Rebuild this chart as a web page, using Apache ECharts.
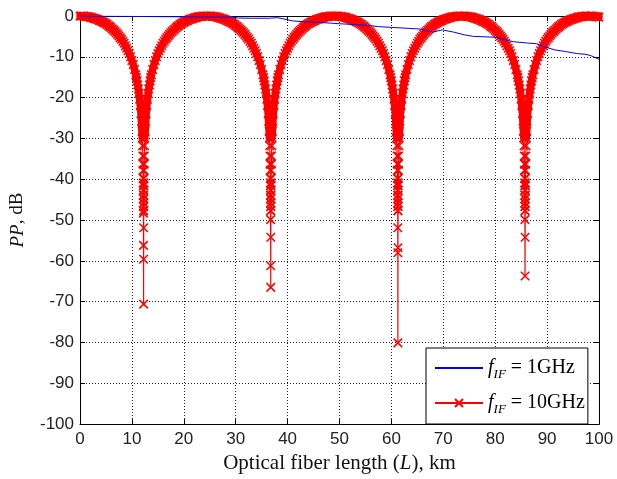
<!DOCTYPE html>
<html>
<head>
<meta charset="utf-8">
<script src="https://cdn.jsdelivr.net/npm/echarts@6/dist/echarts.min.js"></script>
<style>
  html, body { margin: 0; padding: 0; background: #fff; }
  #chart { width: 617px; height: 479px; }
</style>
</head>
<body>
<div id="chart"></div>
<script>
// Power penalty (dB) versus optical fibre length for two IF frequencies.

// 10 GHz trace, sampled every 0.25 km from 0 to 100 km
const lengthStep = 0.25;
const pp10GHz = [
  0,0,0,0,-0.1,-0.1,-0.2,-0.2,-0.3,-0.4,-0.5,-0.6,-0.7,-0.8,-0.9,-1.1,-1.2,-1.4,-1.5,-1.7,-1.9,-2.1,-2.4,-2.6,-2.9,-3.2,-3.5,-3.8,-4.1,-4.5,-4.9,-5.3,-5.7,-6.2,-6.7,-7.3,-7.9,-8.5,-9.2,-10.0,-10.9,-11.9,-13.1,-14.4,-15.9,-17.9,-20.4,-23.9,-29.9,
  -70.6,
  -29.9,-23.9,-20.4,-17.9,-15.9,-14.4,-13.1,-11.9,-10.9,-10.0,-9.2,-8.5,-7.9,-7.3,-6.7,-6.2,-5.7,-5.3,-4.9,-4.5,-4.1,-3.8,-3.5,-3.2,-2.9,-2.6,-2.4,-2.1,-1.9,-1.7,-1.5,-1.4,-1.2,-1.1,-0.9,-0.8,-0.7,-0.6,-0.5,-0.4,-0.3,-0.2,-0.2,-0.1,-0.1,0,0,0,0,
  0,0,0,-0.1,-0.1,-0.2,-0.2,-0.3,-0.4,-0.5,-0.6,-0.7,-0.8,-0.9,-1.1,-1.2,-1.4,-1.5,-1.7,-1.9,-2.1,-2.4,-2.6,-2.9,-3.2,-3.5,-3.8,-4.1,-4.5,-4.9,-5.3,-5.7,-6.2,-6.7,-7.3,-7.9,-8.5,-9.2,-10.0,-10.9,-11.9,-13.1,-14.4,-15.9,-17.9,-20.4,-23.9,-29.9,
  -66.5,
  -29.9,-23.9,-20.4,-17.9,-15.9,-14.4,-13.1,-11.9,-10.9,-10.0,-9.2,-8.5,-7.9,-7.3,-6.7,-6.2,-5.7,-5.3,-4.9,-4.5,-4.1,-3.8,-3.5,-3.2,-2.9,-2.6,-2.4,-2.1,-1.9,-1.7,-1.5,-1.4,-1.2,-1.1,-0.9,-0.8,-0.7,-0.6,-0.5,-0.4,-0.3,-0.2,-0.2,-0.1,-0.1,0,0,0,0,
  0,0,0,-0.1,-0.1,-0.2,-0.2,-0.3,-0.4,-0.5,-0.6,-0.7,-0.8,-0.9,-1.1,-1.2,-1.4,-1.5,-1.7,-1.9,-2.1,-2.4,-2.6,-2.9,-3.2,-3.5,-3.8,-4.1,-4.5,-4.9,-5.3,-5.7,-6.2,-6.7,-7.3,-7.9,-8.5,-9.2,-10.0,-10.9,-11.9,-13.1,-14.4,-15.9,-17.9,-20.4,-23.9,-29.9,
  -80.1,
  -29.9,-23.9,-20.4,-17.9,-15.9,-14.4,-13.1,-11.9,-10.9,-10.0,-9.2,-8.5,-7.9,-7.3,-6.7,-6.2,-5.7,-5.3,-4.9,-4.5,-4.1,-3.8,-3.5,-3.2,-2.9,-2.6,-2.4,-2.1,-1.9,-1.7,-1.5,-1.4,-1.2,-1.1,-0.9,-0.8,-0.7,-0.6,-0.5,-0.4,-0.3,-0.2,-0.2,-0.1,-0.1,0,0,0,0,
  0,0,0,-0.1,-0.1,-0.2,-0.2,-0.3,-0.4,-0.5,-0.6,-0.7,-0.8,-0.9,-1.1,-1.2,-1.4,-1.5,-1.7,-1.9,-2.1,-2.4,-2.6,-2.9,-3.2,-3.5,-3.8,-4.1,-4.5,-4.9,-5.3,-5.7,-6.2,-6.7,-7.3,-7.9,-8.5,-9.2,-10.0,-10.9,-11.9,-13.1,-14.4,-15.9,-17.9,-20.4,-23.9,-29.9,
  -63.7,
  -29.9,-23.9,-20.4,-17.9,-15.9,-14.4,-13.1,-11.9,-10.9,-10.0,-9.2,-8.5,-7.9,-7.3,-6.7,-6.2,-5.7,-5.3,-4.9,-4.5,-4.1,-3.8,-3.5,-3.2,-2.9,-2.6,-2.4,-2.1,-1.9,-1.7,-1.5,-1.4,-1.2,-1.1,-0.9,-0.8,-0.7,-0.6,-0.5,-0.4,-0.3,-0.2,-0.2,-0.1,-0.1,0,0,0,0,
  0,0,0,-0.1,-0.1,-0.2,-0.2,-0.3
];

// extra 10 GHz samples around each fading notch (km offset from the notch, dB)
const notchCentres = [12.25, 36.75, 61.25, 85.75];
const notchOffsets = [-1.375,-1.125,-0.875,-0.625,-0.4,-0.3,-0.2,-0.15,-0.12,-0.1,-0.08,-0.07,-0.065,-0.057,-0.05,-0.045,-0.04,-0.036,-0.032,
                      0.032,0.036,0.04,0.045,0.05,0.057,0.065,0.07,0.08,0.1,0.12,0.15,0.2,0.3,0.4,0.625,0.875,1.125,1.375];
const notchValues  = [-15.1,-16.9,-19.0,-21.9,-25.8,-28.3,-31.8,-34.3,-36.3,-37.8,-39.8,-40.9,-41.6,-42.7,-43.9,-44.8,-45.8,-46.7,-47.7,
                      -47.7,-46.7,-45.8,-44.8,-43.9,-42.7,-41.6,-40.9,-39.8,-37.8,-36.3,-34.3,-31.8,-28.3,-25.8,-21.9,-19.0,-16.9,-15.1];
// deepest samples of each notch
const deepOffsets = [[-0.024, 0.018, -0.012, 0.008], [-0.025, 0.015, -0.007], [-0.02, 0.012, -0.011], [-0.025, 0.016]];
const deepValues  = [[-48.3, -51.9, -56.2, -59.6], [-49.9, -54.2, -61.2], [-51.9, -56.8, -58.0], [-49.9, -54.2]];

// 1 GHz trace
const lengths1GHz = [0,5,10,15,20,25,29.5,30.5,33,36.5,38,39.5,41,43,46.5,50,53,55.5,57.5,60,63,65.5,68,69.8,72,74,75.8,80,81.5,83.5,86,88,89.3,91.5,93.5,95.7,97.5,98.6,100];
const pp1GHz      = [0,-0.05,-0.1,-0.15,-0.2,-0.25,-0.3,-0.5,-0.55,-0.55,-0.4,-0.8,-1.2,-1.4,-1.6,-1.9,-2.1,-2.3,-2.6,-2.8,-3.0,-3.2,-3.95,-3.4,-3.95,-4.6,-5.0,-5.2,-5.7,-6.3,-6.6,-6.8,-7.5,-8.3,-8.7,-9.2,-9.4,-9.8,-10.6];

const seriesNames = ['1GHz', '10GHz'];

// assemble [length, dB] pairs
const trace10 = pp10GHz.map((v, i) => [i * lengthStep, v]);
// the dense marker band along the 10 GHz arches (broken at the notch floors)
const band10 = pp10GHz.map((v, i) => [i * lengthStep, notchCentres.includes(i * lengthStep) ? '-' : v]);
notchCentres.forEach((c, n) => {
  notchOffsets.forEach((o, j) => trace10.push([c + o, notchValues[j]]));
  deepOffsets[n].forEach((o, j) => trace10.push([c + o, deepValues[n][j]]));
});
trace10.sort((a, b) => a[0] - b[0]);
const trace1 = lengths1GHz.map((x, i) => [x, pp1GHz[i]]);

const serif = 'Liberation Serif';
const sans = 'Liberation Sans';
const crossPath = 'path://M0,0L10,10M0,10L10,0';
const red = '#ff0000';

const edgeAxis = {
  type: 'value', min: 0, max: 100, interval: 10,
  axisLine: { onZero: false, lineStyle: { color: '#000', width: 1 } },
  axisTick: { inside: true, length: 5, lineStyle: { color: '#000' } },
  axisLabel: { show: false },
  splitLine: { show: false }
};

const chart = echarts.init(document.getElementById('chart'), null, { renderer: 'canvas' });
chart.setOption({
  animation: false,
  backgroundColor: '#fff',
  grid: { left: 78, right: 18, top: 16, bottom: 51 },
  xAxis: [
    {
      type: 'value', min: 0, max: 100, interval: 10, position: 'bottom',
      axisLine: { onZero: false, lineStyle: { color: '#000', width: 1 } },
      axisTick: { inside: true, length: 5, lineStyle: { color: '#000' } },
      axisLabel: { margin: 7, color: '#222', fontFamily: sans, fontSize: 17 },
      splitLine: { show: true, lineStyle: { color: '#222', width: 1, type: [1, 2] } },
      name: '{r|Optical fiber length (}{i|L}{r|), km}',
      nameLocation: 'middle', nameGap: 28,
      nameTextStyle: {
        rich: {
          r: { fontFamily: serif, fontSize: 21, color: '#111' },
          i: { fontFamily: serif, fontSize: 21, fontStyle: 'italic', color: '#111' }
        }
      }
    },
    Object.assign({}, edgeAxis, { position: 'top' })
  ],
  yAxis: [
    {
      type: 'value', min: -100, max: 0, interval: 10, position: 'left',
      axisLine: { onZero: false, lineStyle: { color: '#000', width: 1 } },
      axisTick: { inside: true, length: 5, lineStyle: { color: '#000' } },
      axisLabel: { margin: 6, color: '#222', fontFamily: sans, fontSize: 17 },
      splitLine: { show: true, lineStyle: { color: '#222', width: 1, type: [1, 2] } },
      name: '{i|PP}{r|, dB}',
      nameLocation: 'middle', nameGap: 53,
      nameTextStyle: {
        rich: {
          r: { fontFamily: serif, fontSize: 19, color: '#111' },
          i: { fontFamily: serif, fontSize: 19, fontStyle: 'italic', color: '#111' }
        }
      }
    },
    Object.assign({}, edgeAxis, { min: -100, max: 0, position: 'right' })
  ],
  legend: {
    data: [
      { name: seriesNames[0], itemStyle: { opacity: 0 } },
      { name: seriesNames[1] }
    ],
    orient: 'vertical',
    left: 426, top: 348,
    padding: [10, 3, 8, 8],
    itemGap: 12,
    itemWidth: 48, itemHeight: 10,
    backgroundColor: '#fff',
    borderColor: '#000', borderWidth: 1, borderRadius: 0,
    formatter: name => '{f|f}{s|IF}{t| = ' + name + '}',
    textStyle: {
      color: '#000',
      rich: {
        f: { fontFamily: serif, fontSize: 20, fontStyle: 'italic', lineHeight: 26, color: '#000' },
        s: { fontFamily: serif, fontSize: 13, fontStyle: 'italic', lineHeight: 14, verticalAlign: 'bottom', color: '#000' },
        t: { fontFamily: serif, fontSize: 20, lineHeight: 26, color: '#000' }
      }
    }
  },
  series: [
    {
      name: '10GHz band',
      type: 'line',
      data: band10,
      xAxisIndex: 0, yAxisIndex: 0,
      symbol: 'none',
      connectNulls: false,
      lineStyle: { color: red, width: 7.5, join: 'round', cap: 'round' },
      silent: true,
      z: 1
    },
    {
      name: seriesNames[1],
      type: 'line',
      data: trace10,
      xAxisIndex: 0, yAxisIndex: 0,
      showSymbol: true, showAllSymbol: true,
      symbol: crossPath, symbolSize: 8.5,
      itemStyle: { color: 'rgba(255,0,0,0)', borderColor: red, borderWidth: 1.5 },
      lineStyle: { color: red, width: 1.2 },
      emphasis: { disabled: true },
      z: 2
    },
    {
      name: seriesNames[0],
      type: 'line',
      data: trace1,
      xAxisIndex: 0, yAxisIndex: 0,
      symbol: 'none',
      lineStyle: { color: '#0000ff', width: 1 },
      itemStyle: { color: '#0000ff' },
      emphasis: { disabled: true },
      z: 3
    }
  ]
});
</script>
</body>
</html>
